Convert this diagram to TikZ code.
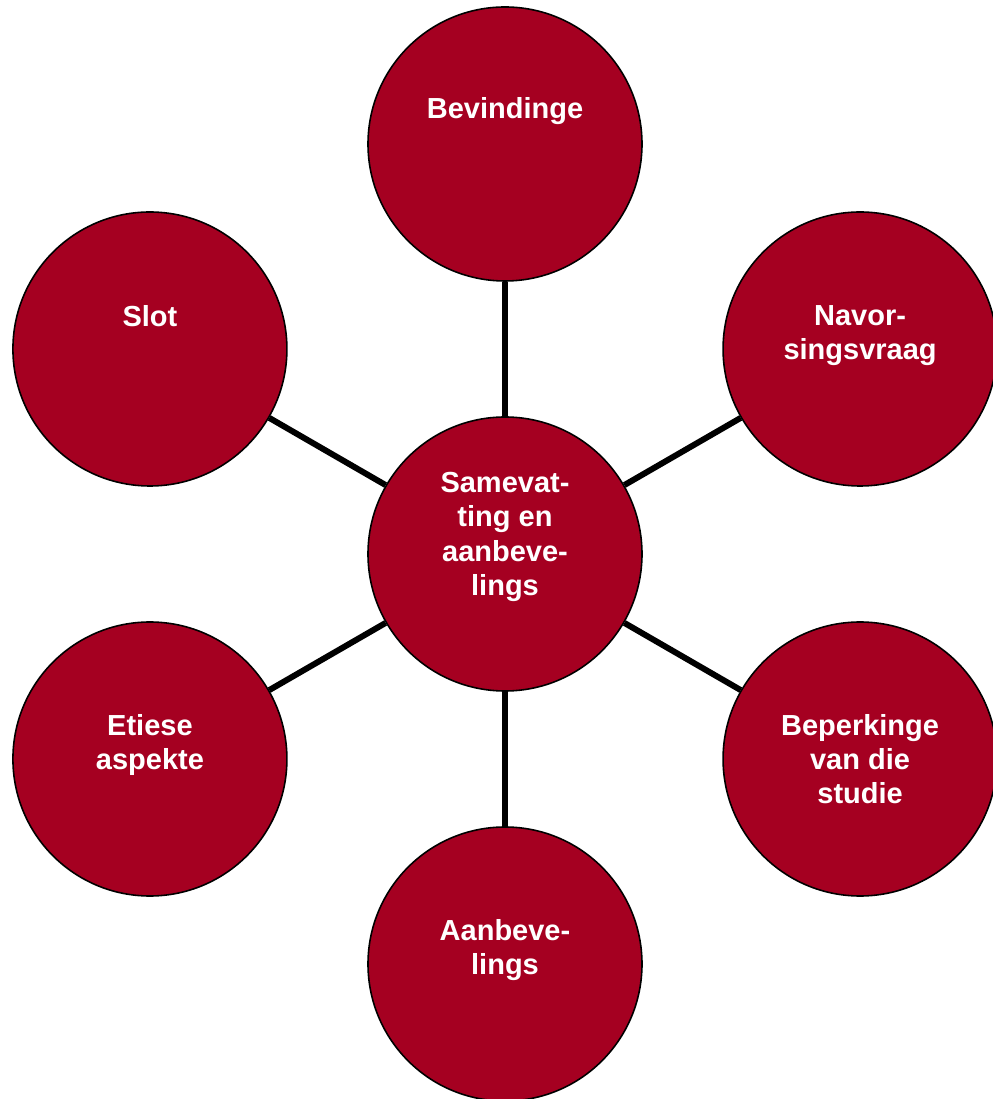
\documentclass[tikz,border=0pt]{standalone}
\usepackage{fontspec}
\setmainfont{Liberation Sans}
\usepackage{xcolor}
\usepackage{tikz}
\usetikzlibrary{calc, positioning}
\definecolor{bubblered}{RGB}{165,0,33}

\begin{document}
\begin{tikzpicture}[
        bubble/.style = {draw=black, circle, fill=bubblered, minimum size=5.48cm, inner sep=0pt, line width=0.9pt},
        caption/.style = {anchor=north, inner sep=0pt, align=center, text=white, font=\fontsize{16.5}{19.5}\selectfont\bfseries},
        spoke/.style = {draw=black, line width=3.4pt}
    ]
        \useasboundingbox (-10.1,-10.9) rectangle (9.74,11.08);

        % Hub
        \node (hub) [bubble] at (0,0) {};

        % Outer circles
        \node (finds)  [bubble] at ($(hub)+(90:8.2)$)  {};
        \node (quest)  [bubble] at ($(hub)+(30:8.2)$)  {};
        \node (limits) [bubble] at ($(hub)+(-30:8.2)$) {};
        \node (recs)   [bubble] at ($(hub)+(-90:8.2)$) {};
        \node (ethics) [bubble] at ($(hub)+(210:8.2)$) {};
        \node (close)  [bubble] at ($(hub)+(150:8.2)$) {};

        % Spokes
        \draw [spoke] (hub) -- (finds);
        \draw [spoke] (hub) -- (quest);
        \draw [spoke] (hub) -- (limits);
        \draw [spoke] (hub) -- (recs);
        \draw [spoke] (hub) -- (ethics);
        \draw [spoke] (hub) -- (close);

        % Texts
        \node (hubtxt)    [caption] at ($(hub)+(0,1.64)$)    {Samevat-\\ting en\\aanbeve-\\lings};
        \node (findstxt)  [caption] at ($(finds)+(0,0.94)$)  {Bevindinge};
        \node (questtxt)  [caption] at ($(quest)+(0,0.88)$)  {Navor-\\singsvraag};
        \node (limitstxt) [caption] at ($(limits)+(0,0.9)$)  {Beperkinge\\van die\\studie};
        \node (recstxt)   [caption] at ($(recs)+(0,0.9)$)    {Aanbeve-\\lings};
        \node (ethicstxt) [caption] at ($(ethics)+(0,0.9)$)  {Etiese\\aspekte};
        \node (closetxt)  [caption] at ($(close)+(0,0.88)$)  {Slot};

    \end{tikzpicture}
\end{document}
